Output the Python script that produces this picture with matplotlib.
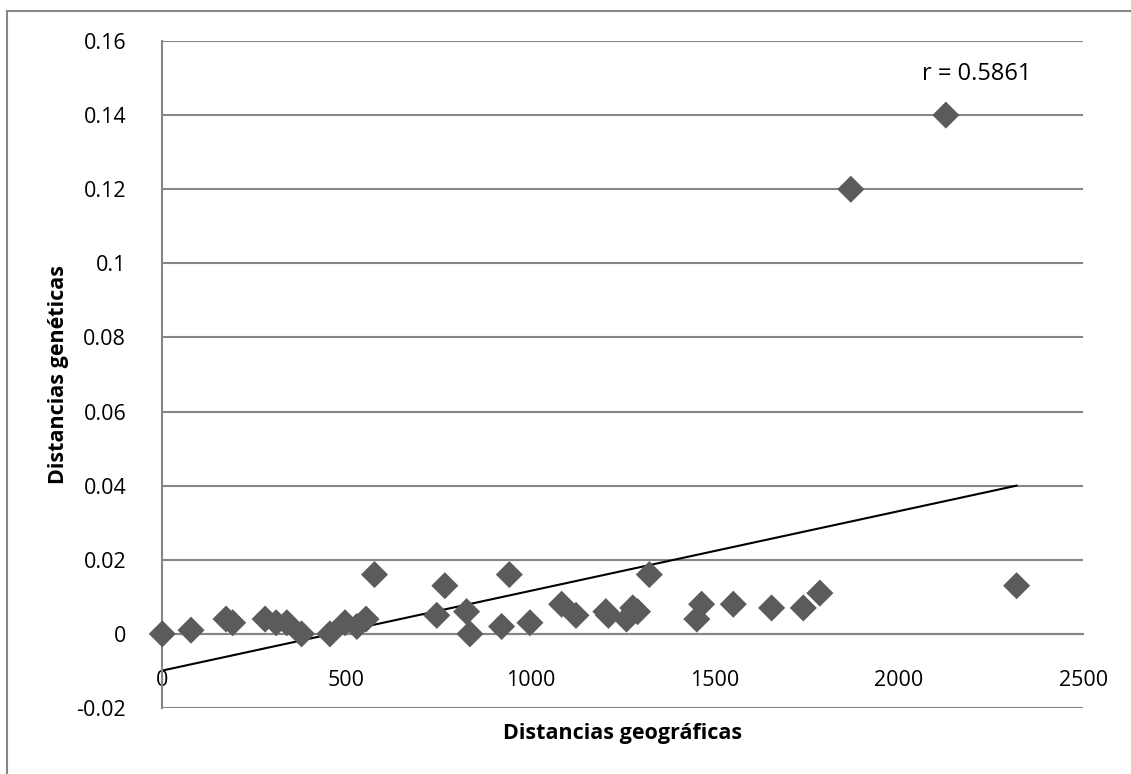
import numpy as np
import matplotlib
matplotlib.use("Agg")
import matplotlib.pyplot as plt

# Datos
dist_geo = [0, 78, 173, 191, 279, 309, 338, 378, 455, 496, 528, 553, 576,
            745, 767, 826, 835, 921, 942, 998, 1084, 1123, 1204, 1211, 1260,
            1277, 1290, 1322, 1451, 1464, 1550, 1654, 1740, 1785, 1869, 2127,
            2319]
dist_gen = [0.000, 0.001, 0.004, 0.003, 0.004, 0.003, 0.003, 0.000, 0.000,
            0.003, 0.002, 0.004, 0.016, 0.005, 0.013, 0.006, 0.000, 0.002,
            0.016, 0.003, 0.008, 0.005, 0.006, 0.005, 0.004, 0.007, 0.006,
            0.016, 0.004, 0.008, 0.008, 0.007, 0.007, 0.011, 0.120, 0.140,
            0.013]

# Recta de tendencia tal como aparece en el gráfico original
pendiente = 2.152e-5
ordenada = -0.0099

y_ticks = [-0.02, 0, 0.02, 0.04, 0.06, 0.08, 0.1, 0.12, 0.14, 0.16]
y_tick_labels = ["-0.02", "0", "0.02", "0.04", "0.06", "0.08", "0.1",
                 "0.12", "0.14", "0.16"]
x_ticks = [0, 500, 1000, 1500, 2000, 2500]
r_texto = "r = 0.5861"

plt.rcParams["font.family"] = ["Open Sans", "DejaVu Sans"]

fig = plt.figure(figsize=(11.31, 7.74), dpi=100)
ax = fig.add_axes([0.1435, 0.0853, 0.8143, 0.8617])

gris = "#868686"

xt = np.array([min(dist_geo), max(dist_geo)])
ax.plot(xt, ordenada + pendiente * xt, color="black", linewidth=1.5,
        zorder=2, clip_on=False)

ax.scatter(dist_geo, dist_gen, marker="D", s=190, color="#5b5b5b",
           edgecolors="none", zorder=3, clip_on=False)

ax.set_xlim(0, 2500)
ax.set_ylim(-0.02, 0.16)
ax.set_yticks(y_ticks)
ax.set_yticklabels(y_tick_labels)
ax.set_xticks(x_ticks)
ax.set_xticklabels([str(t) for t in x_ticks])

ax.grid(axis="y", color=gris, linewidth=1.5)
ax.set_axisbelow(True)
for lado in ["top", "right"]:
    ax.spines[lado].set_visible(False)
ax.spines["left"].set_color(gris)
ax.spines["left"].set_linewidth(1.5)
ax.spines["bottom"].set_position(("data", 0))
ax.spines["bottom"].set_color(gris)
ax.spines["bottom"].set_linewidth(1.5)

ax.tick_params(axis="both", length=0, labelsize=15.5)
ax.tick_params(axis="y", pad=26)
ax.tick_params(axis="x", pad=26)

ax.set_xlabel("Distancias geográficas", fontsize=15.5, fontweight="bold")
ax.xaxis.set_label_coords(0.5, -0.022)
ax.set_ylabel("Distancias genéticas", fontsize=15.5, fontweight="bold")
ax.yaxis.set_label_coords(-0.101, 0.5)

ax.text(2211, 0.1511, r_texto, fontsize=17, ha="center", va="center")

# Borde del área del gráfico
fig.add_artist(plt.Line2D([0.0065, 0.0065], [0, 0.986], color=gris,
                          linewidth=1.5, transform=fig.transFigure))
fig.add_artist(plt.Line2D([0.0065, 1.0], [0.986, 0.986], color=gris,
                          linewidth=1.5, transform=fig.transFigure))

fig.savefig("out.png", dpi=100)
